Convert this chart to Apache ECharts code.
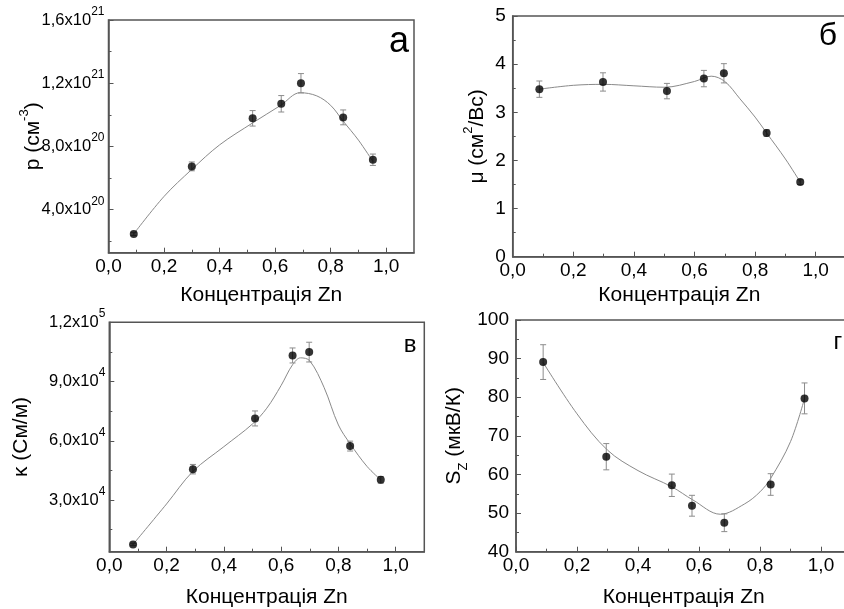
<!DOCTYPE html>
<html>
<head>
<meta charset="utf-8">
<script src="https://cdn.jsdelivr.net/npm/echarts@6/dist/echarts.min.js"></script>
<style>
  html, body { margin: 0; background: #fff; }
  #main { width: 844px; height: 609px; }
</style>
</head>
<body>
<div id="main"></div>
<script>
// ---- data ----
const xTicks = [0, 0.2, 0.4, 0.6, 0.8, 1.0];
const xMinor = [0.1, 0.3, 0.5, 0.7, 0.9];

// (а) hole concentration p
const pZn  = [0.091, 0.300, 0.519, 0.622, 0.693, 0.845, 0.952];
const pVal = [2.47e20, 6.74e20, 9.78e20, 1.07e21, 1.20e21, 9.84e20, 7.16e20];
const pErr = [0.10e20, 0.28e20, 0.49e20, 0.52e20, 0.61e20, 0.47e20, 0.36e20];
const pFitX = [0.091, 0.2, 0.3, 0.4, 0.52, 0.62, 0.69, 0.75, 0.8, 0.845, 0.9, 0.952];
const pFitY = [2.47e20, 4.84e20, 6.55e20, 8.1e20, 9.5e20, 1.06e21, 1.14e21, 1.12e21, 1.06e21, 9.6e20, 8.4e20, 7.05e20];
const pTicks = [4e20, 8e20, 1.2e21, 1.6e21];
const pMinor = [2e20, 6e20, 1e21, 1.4e21];

// (б) mobility mu
const muZn  = [0.088, 0.298, 0.509, 0.631, 0.697, 0.838, 0.949];
const muVal = [3.48, 3.63, 3.44, 3.70, 3.81, 2.57, 1.55];
const muErr = [0.17, 0.19, 0.16, 0.17, 0.20, 0.07, 0.05];
const muFitX = [0.088, 0.2, 0.3, 0.4, 0.5, 0.6, 0.655, 0.7, 0.75, 0.8, 0.838, 0.9, 0.949];
const muFitY = [3.48, 3.56, 3.58, 3.55, 3.52, 3.64, 3.75, 3.64, 3.28, 2.9, 2.57, 2.03, 1.55];
const muTicks = [0, 1, 2, 3, 4, 5];
const muMinor = [0.5, 1.5, 2.5, 3.5, 4.5];

// (в) conductivity kappa
const kZn  = [0.083, 0.292, 0.509, 0.640, 0.698, 0.841, 0.948];
const kVal = [7500, 45600, 71300, 103200, 104900, 57300, 40200];
const kErr = [600, 2400, 3800, 3800, 5000, 2500, 1700];
const kFitX = [0.083, 0.2, 0.292, 0.4, 0.5, 0.55, 0.6, 0.64, 0.668, 0.7, 0.75, 0.8, 0.841, 0.9, 0.948];
const kFitY = [7500, 28000, 44500, 57000, 68500, 76500, 88000, 98500, 102000, 100500, 87000, 68000, 58500, 47000, 40200];
const kTicks = [3e4, 6e4, 9e4, 1.2e5];
const kMinor = [1.5e4, 4.5e4, 7.5e4, 1.05e5];

// (г) Seebeck S_Z
const sZn  = [0.089, 0.296, 0.511, 0.577, 0.683, 0.835, 0.946];
const sVal = [89.1, 64.6, 57.2, 51.9, 47.5, 57.4, 79.7];
const sErr = [4.5, 3.4, 2.9, 2.7, 2.3, 2.8, 4.0];
const sFitX = [0.089, 0.2, 0.3, 0.4, 0.511, 0.58, 0.67, 0.75, 0.8, 0.835, 0.9, 0.946];
const sFitY = [89, 75.7, 66.3, 61, 56.8, 53.4, 49.7, 52.4, 55.5, 59, 68.5, 79.7];
const sTicks = [40, 50, 60, 70, 80, 90, 100];
const sMinor = [45, 55, 65, 75, 85, 95];

const xTitle = 'Концентрація Zn';
const FONT = 'Liberation Sans, Arial, sans-serif';
const AXIS = '#555';

const chart = echarts.init(document.getElementById('main'));

function zip(a, b, c) {
  return a.map((v, i) => c ? [v, b[i], c[i]] : [v, b[i]]);
}

function sciLabel(v) {
  const e = Math.floor(Math.log10(v) + 1e-9);
  const m = (v / Math.pow(10, e)).toFixed(1).replace('.', ',');
  return '{m|' + m + 'x10}{s|' + e + '}';
}
const sciRich = {
  m: { fontSize: 16.5, fontFamily: FONT, color: '#000', padding: [6, 0, 6, 0] },
  s: { fontSize: 12, fontFamily: FONT, color: '#000', verticalAlign: 'top' }
};
const nameRich = {
  n: { fontSize: 21, fontFamily: FONT, color: '#000', padding: [5, 0, 5, 0] },
  sup: { fontSize: 13, fontFamily: FONT, color: '#000', verticalAlign: 'top' },
  sub: { fontSize: 13, fontFamily: FONT, color: '#000', verticalAlign: 'bottom' }
};

const grids = [], xAxes = [], yAxes = [], series = [];

function errItem(params, api) {
  const x = api.value(0), y = api.value(1), e = api.value(2);
  const a = api.coord([x, y + e]), b = api.coord([x, y - e]);
  const w = 3, st = { stroke: '#8c8c8c', lineWidth: 1 };
  return {
    type: 'group',
    children: [
      { type: 'line', shape: { x1: a[0], y1: a[1], x2: b[0], y2: b[1] }, style: st },
      { type: 'line', shape: { x1: a[0] - w, y1: a[1], x2: a[0] + w, y2: a[1] }, style: st },
      { type: 'line', shape: { x1: b[0] - w, y1: b[1], x2: b[0] + w, y2: b[1] }, style: st }
    ]
  };
}

function addPanel(cfg) {
  const g = grids.length;
  grids.push(Object.assign({ show: true, borderColor: AXIS, borderWidth: 1.5,
    backgroundColor: 'transparent', outerBoundsMode: 'none' }, cfg.box));

  // main x axis
  xAxes.push({
    type: 'value', gridIndex: g, min: 0, max: 1.1,
    axisLine: { lineStyle: { color: AXIS, width: 1.5 } },
    axisTick: { inside: true, length: 5, lineStyle: { color: AXIS }, customValues: xTicks },
    axisLabel: { customValues: xTicks, fontSize: 19, fontFamily: FONT, color: '#000', margin: 5,
      formatter: v => v.toFixed(1).replace('.', ',') },
    splitLine: { show: false },
    name: xTitle, nameLocation: 'middle', nameGap: cfg.xGap, nameMoveOverlap: false,
    nameTextStyle: { fontSize: 21, fontFamily: FONT, color: '#000' }
  });
  // minor x ticks
  xAxes.push({
    type: 'value', gridIndex: g, min: 0, max: 1.1, position: 'bottom',
    axisLine: { show: false },
    axisTick: { inside: true, length: 3, lineStyle: { color: AXIS }, customValues: xMinor },
    axisLabel: { show: false }, splitLine: { show: false }
  });
  // main y axis
  yAxes.push({
    type: 'value', gridIndex: g, min: cfg.yMin, max: cfg.yMax,
    axisLine: { show: true, lineStyle: { color: AXIS, width: 1.5 } },
    axisTick: { show: true, inside: true, length: 5, lineStyle: { color: AXIS }, customValues: cfg.yTicks },
    axisLabel: cfg.sci
      ? { customValues: cfg.yTicks, formatter: sciLabel, rich: sciRich, margin: 4 }
      : { customValues: cfg.yTicks, fontSize: 19, fontFamily: FONT, color: '#000', margin: 7 },
    splitLine: { show: false },
    name: cfg.yName, nameLocation: 'middle', nameGap: cfg.yGap, nameMoveOverlap: false,
    nameTextStyle: { rich: nameRich, fontSize: 21, fontFamily: FONT, color: '#000' }
  });
  // minor y ticks
  yAxes.push({
    type: 'value', gridIndex: g, min: cfg.yMin, max: cfg.yMax, position: 'left',
    axisLine: { show: false },
    axisTick: { show: true, inside: true, length: 3, lineStyle: { color: AXIS }, customValues: cfg.yMinor },
    axisLabel: { show: false }, splitLine: { show: false }
  });

  const xi = 2 * g, yi = 2 * g;
  series.push({
    type: 'line', xAxisIndex: xi, yAxisIndex: yi, data: zip(cfg.fitX, cfg.fitY),
    smooth: 0.35, showSymbol: false, silent: true,
    lineStyle: { color: '#8a8a8a', width: 1 }, z: 2
  });
  series.push({
    type: 'custom', xAxisIndex: xi, yAxisIndex: yi, data: zip(cfg.x, cfg.y, cfg.err),
    renderItem: errItem, encode: { x: 0, y: 1 }, z: 3
  });
  series.push({
    type: 'scatter', xAxisIndex: xi, yAxisIndex: yi, data: zip(cfg.x, cfg.y),
    symbolSize: 8, itemStyle: { color: '#000' }, z: 4
  });
}

addPanel({
  box: { left: 108.5, top: 20, right: 430, bottom: 356.3 },
  yMin: 1.28e20, yMax: 1.6e21, yTicks: pTicks, yMinor: pMinor, sci: true,
  yName: '{n|p (см}{sup|-3}{n|)}', yGap: 60, xGap: 32,
  x: pZn, y: pVal, err: pErr, fitX: pFitX, fitY: pFitY
});
addPanel({
  box: { left: 512.7, top: 16, right: -2, bottom: 352.3 },
  yMin: 0, yMax: 5, yTicks: muTicks, yMinor: muMinor, sci: false,
  yName: '{n|μ (см}{sup|2}{n|/Вс)}', yGap: 20, xGap: 28,
  x: muZn, y: muVal, err: muErr, fitX: muFitX, fitY: muFitY
});
addPanel({
  box: { left: 109.3, top: 322.3, right: 419.7, bottom: 57.3 },
  yMin: 3800, yMax: 1.2e5, yTicks: kTicks, yMinor: kMinor, sci: true,
  yName: '{n|κ (См/м)}', yGap: 73, xGap: 35,
  x: kZn, y: kVal, err: kErr, fitX: kFitX, fitY: kFitY
});
addPanel({
  box: { left: 516, top: 320, right: -7.5, bottom: 57.3 },
  yMin: 40, yMax: 100, yTicks: sTicks, yMinor: sMinor, sci: false,
  yName: '{n|S}{sub|Z}{n| (мкВ/К)}', yGap: 46, xGap: 35,
  x: sZn, y: sVal, err: sErr, fitX: sFitX, fitY: sFitY
});

const letter = (t, x, y, size) => ({
  type: 'text', x: x, y: y,
  style: { text: t, fontSize: size, fontFamily: FONT, fill: '#000', align: 'center', verticalAlign: 'middle' }
});

chart.setOption({
  animation: false,
  backgroundColor: '#fff',
  grid: grids,
  xAxis: xAxes,
  yAxis: yAxes,
  series: series,
  graphic: [
    letter('а', 399, 42, 36),
    letter('б', 828, 36, 32),
    letter('в', 410, 345, 24),
    letter('г', 838, 342, 24)
  ]
});
</script>
</body>
</html>
